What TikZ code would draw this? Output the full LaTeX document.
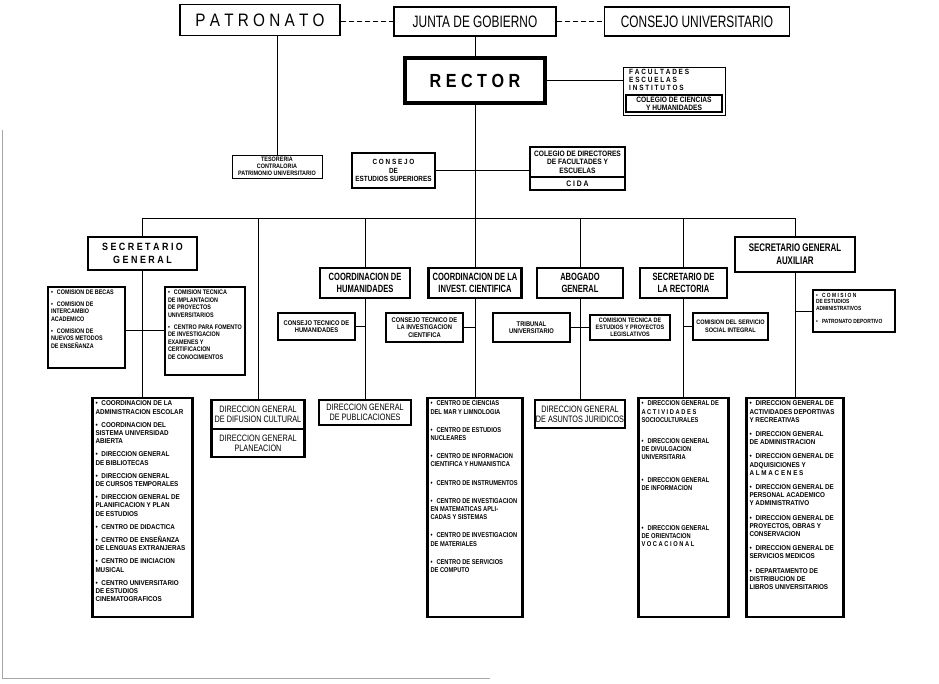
\documentclass[tikz,border=0pt]{standalone}
\usepackage{fontspec}
\setmainfont{Liberation Sans}
\newfontfamily\cnd{Liberation Sans}[FakeStretch=0.72]
\newfontfamily\dgf{Liberation Sans}[FakeStretch=0.78]
\newfontfamily\mdc{Liberation Sans}[FakeStretch=0.85]
\newfontfamily\lfn{Liberation Sans}[FakeStretch=0.9]
\newfontfamily\cfn{Liberation Sans}[FakeStretch=0.82]
\newcommand\mylist[3]{\begin{minipage}[c][#2][t]{#1}\raggedright #3\end{minipage}}
\newcommand\myitem[2][0pt]{\par\vspace*{#1}\noindent\hangindent=6pt\hangafter=1\makebox[6pt][l]{•}#2\par}
\tikzset{
  tp/.style={draw, line width=1.4pt, inner sep=0pt, align=center, font=\cnd\fontsize{16.5}{18}\selectfont},
  hd/.style={draw, line width=2.8pt, inner sep=0pt, align=center, font=\cnd\bfseries\fontsize{10.5}{12}\selectfont},
  sm/.style={draw, line width=2.4pt, inner sep=0pt, align=center, font=\mdc\bfseries\fontsize{6.8}{7.5}\selectfont},
  ls/.style={draw, line width=2.4pt, inner sep=3pt, font=\lfn\bfseries\fontsize{7}{8.2}\selectfont},
  dg/.style={draw, line width=2.2pt, inner sep=0pt, align=center, font=\dgf\fontsize{9.3}{10.2}\selectfont},
  ln/.style={line width=1pt},
  dl/.style={line width=1pt, dash pattern=on 5pt off 3pt}
}
\begin{document}
\begin{tikzpicture}[x=1pt,y=-1pt]
\useasboundingbox (0,0) rectangle (939,683);
\fill[white] (0,0) rectangle (939,683);
% top row
\node[tp, minimum width=160, minimum height=31, font=\mdc\fontsize{18}{19}\selectfont] (pat) at (260,20) {P A T R O N A T O};
\node[tp, minimum width=162, minimum height=29] (junta) at (475,21.5) {JUNTA DE GOBIERNO};
\node[tp, minimum width=185, minimum height=29] (cons) at (697,21.5) {CONSEJO UNIVERSITARIO};
\node[draw, line width=3.5pt, minimum width=140, minimum height=45, inner sep=0pt, font=\mdc\bfseries\fontsize{19}{20}\selectfont] (rector) at (475,80.5) {R E C T O R};
% facultades
\node[draw, line width=0.9pt, minimum width=102, minimum height=48, inner sep=0pt] (fac) at (674,91) {};
\node[anchor=north west, inner sep=0pt, align=left, font=\mdc\bfseries\fontsize{7.6}{8.2}\selectfont] (facT) at (629,69) {F A C U L T A D E S\\E S C U E L A S\\I N S T I T U T O S};
\node[sm, minimum width=96, minimum height=17, font=\mdc\bfseries\fontsize{7.8}{8}\selectfont] (cch) at (674,103.5) {COLEGIO DE CIENCIAS\\Y HUMANIDADES};
% second level
\node[draw, line width=1pt, minimum width=90, minimum height=23, inner sep=0pt, align=center, font=\mdc\bfseries\fontsize{6.4}{7}\selectfont] (tes) at (277,166.5) {TESORERIA\\CONTRALORIA\\PATRIMONIO UNIVERSITARIO};
\node[sm, minimum width=83, minimum height=35, font=\mdc\bfseries\fontsize{7.5}{8.5}\selectfont] (ces) at (393.5,170.5) {C O N S E J O\\DE\\ESTUDIOS SUPERIORES};
\node[sm, minimum width=95, minimum height=30, font=\mdc\bfseries\fontsize{7.8}{8.5}\selectfont] (cdirA) at (577.5,162) {COLEGIO DE DIRECTORES\\DE FACULTADES Y\\ESCUELAS};
\node[sm, minimum width=95, minimum height=13, font=\mdc\bfseries\fontsize{8}{8}\selectfont] (cdirB) at (577.5,183.5) {C I D A};
% bus
\coordinate (bl) at (142.5,218);
\coordinate (br) at (795,218);
% secretario general
\node[hd, minimum width=109, minimum height=33, font=\mdc\bfseries\fontsize{10.5}{13}\selectfont] (sg) at (142.5,253.5) {S E C R E T A R I O\\G E N E R A L};
\node[ls, font=\cfn\bfseries\fontsize{6.6}{7.6}\selectfont] (com1) at (86.5,327.5) {\mylist{71pt}{75pt}{%
\myitem{COMISION DE BECAS}
\myitem[4pt]{COMISION DE\\INTERCAMBIO\\ACADEMICO}
\myitem[4pt]{COMISION DE\\NUEVOS METODOS\\DE ENSEÑANZA}}};
\node[ls, font=\cfn\bfseries\fontsize{6.6}{7.6}\selectfont] (com2) at (205,331) {\mylist{74pt}{82pt}{%
\myitem{COMISION TECNICA\\DE IMPLANTACION\\DE PROYECTOS\\UNIVERSITARIOS}
\myitem[4pt]{CENTRO PARA FOMENTO\\DE INVESTIGACION\\EXAMENES Y\\CERTIFICACION\\DE CONOCIMIENTOS}}};
\node[ls] (low1) at (142.5,507.5) {\mylist{94pt}{213pt}{%
\myitem{COORDINACION DE LA\\ADMINISTRACION ESCOLAR}
\myitem[5pt]{COORDINACION DEL\\SISTEMA UNIVERSIDAD\\ABIERTA}
\myitem[5pt]{DIRECCION GENERAL\\DE BIBLIOTECAS}
\myitem[5pt]{DIRECCION GENERAL\\DE CURSOS TEMPORALES}
\myitem[5pt]{DIRECCION GENERAL DE\\PLANIFICACION Y PLAN\\DE ESTUDIOS}
\myitem[5pt]{CENTRO DE DIDACTICA}
\myitem[5pt]{CENTRO DE ENSEÑANZA\\DE LENGUAS EXTRANJERAS}
\myitem[5pt]{CENTRO DE INICIACION\\MUSICAL}
\myitem[5pt]{CENTRO UNIVERSITARIO\\DE ESTUDIOS\\CINEMATOGRAFICOS}}};
\node[dg, minimum width=93, minimum height=29] (dif) at (258,414.5) {DIRECCION GENERAL\\DE DIFUSION CULTURAL};
\node[dg, minimum width=93, minimum height=28] (plan) at (258,443) {DIRECCION GENERAL\\PLANEACION};
% humanidades
\node[hd, minimum width=90, minimum height=30] (ch) at (365,283) {COORDINACION DE\\HUMANIDADES};
\node[sm, minimum width=77, minimum height=27] (cth) at (316.5,326.5) {CONSEJO TECNICO DE\\HUMANIDADES};
\node[dg, minimum width=92, minimum height=25] (pub) at (365,412.5) {DIRECCION GENERAL\\DE PUBLICACIONES};
% investigacion
\node[hd, minimum width=93, minimum height=30] (cic) at (475,283) {COORDINACION DE LA\\INVEST. CIENTIFICA};
\node[sm, minimum width=77, minimum height=29] (ctic) at (424.5,327.5) {CONSEJO TECNICO DE\\LA INVESTIGACION\\CIENTIFICA};
\node[ls, font=\cfn\bfseries\fontsize{7}{8.2}\selectfont] (low2) at (475,507.5) {\mylist{89pt}{213pt}{%
\myitem{CENTRO DE CIENCIAS\\DEL MAR Y LIMNOLOGIA}
\myitem[10pt]{CENTRO DE ESTUDIOS\\NUCLEARES}
\myitem[10pt]{CENTRO DE INFORMACION\\CIENTIFICA Y HUMANISTICA}
\myitem[10pt]{CENTRO DE INSTRUMENTOS}
\myitem[10pt]{CENTRO DE INVESTIGACION\\EN MATEMATICAS APLI-\\CADAS Y SISTEMAS}
\myitem[10pt]{CENTRO DE INVESTIGACION\\DE MATERIALES}
\myitem[10pt]{CENTRO DE SERVICIOS\\DE COMPUTO}}};
% abogado
\node[hd, minimum width=86, minimum height=30] (ag) at (580,283) {ABOGADO\\GENERAL};
\node[sm, minimum width=77, minimum height=29] (trib) at (531.5,327.5) {TRIBUNAL\\UNIVERSITARIO};
\node[sm, minimum width=80, minimum height=25, font=\mdc\bfseries\fontsize{6.4}{6.9}\selectfont] (ctl) at (630,327.5) {COMISION TECNICA DE\\ESTUDIOS Y PROYECTOS\\LEGISLATIVOS};
\node[dg, minimum width=90, minimum height=28] (aj) at (580,414) {DIRECCION GENERAL\\DE ASUNTOS JURIDICOS};
% secretario de la rectoria
\node[hd, minimum width=87, minimum height=30] (sr) at (683.5,283) {SECRETARIO DE\\LA RECTORIA};
\node[sm, minimum width=75, minimum height=27, font=\mdc\bfseries\fontsize{6.5}{7.5}\selectfont] (css) at (730.5,326.5) {COMISION DEL SERVICIO\\SOCIAL INTEGRAL};
\node[ls, font=\cfn\bfseries\fontsize{7}{8.2}\selectfont] (low3) at (683.5,507.5) {\mylist{84pt}{213pt}{%
\myitem{DIRECCION GENERAL DE\\A C T I V I D A D E S\\SOCIOCULTURALES}
\myitem[13pt]{DIRECCION GENERAL\\DE DIVULGACION\\UNIVERSITARIA}
\myitem[14pt]{DIRECCION GENERAL\\DE INFORMACION}
\myitem[32pt]{DIRECCION GENERAL\\DE ORIENTACION\\V O C A C I O N A L}}};
% secretario general auxiliar
\node[hd, minimum width=120, minimum height=35, font=\cnd\bfseries\fontsize{11}{13}\selectfont] (sga) at (795,254.5) {SECRETARIO GENERAL\\AUXILIAR};
\node[ls, font=\cfn\bfseries\fontsize{6}{6.8}\selectfont] (cea) at (854,311) {\mylist{76pt}{36pt}{%
\myitem{C O M I S I O N\\DE ESTUDIOS\\ADMINISTRATIVOS}
\myitem[6pt]{PATRONATO DEPORTIVO}}};
\node[ls] (low4) at (795,507.5) {\mylist{91pt}{213pt}{%
\myitem{DIRECCION GENERAL DE\\ACTIVIDADES DEPORTIVAS\\Y RECREATIVAS}
\myitem[6pt]{DIRECCION GENERAL\\DE ADMINISTRACION}
\myitem[6pt]{DIRECCION GENERAL DE\\ADQUISICIONES Y\\A L M A C E N E S}
\myitem[6pt]{DIRECCION GENERAL DE\\PERSONAL ACADEMICO\\Y ADMINISTRATIVO}
\myitem[6pt]{DIRECCION GENERAL DE\\PROYECTOS, OBRAS Y\\CONSERVACION}
\myitem[6pt]{DIRECCION GENERAL DE\\SERVICIOS MEDICOS}
\myitem[6pt]{DEPARTAMENTO DE\\DISTRIBUCION DE\\LIBROS UNIVERSITARIOS}}};
% connectors
\draw[dl] (pat.east |- junta.west) -- (junta.west);
\draw[dl] (junta.east) -- (junta.east -| cons.west);
\draw[ln] (junta.south) -- (rector.north);
\draw[ln] (pat.south -| tes.north) -- (tes.north);
\draw[ln] (rector.east) -- (rector.east -| fac.west);
\draw[ln] (rector.south) -- (cic.north);
\draw[ln] (ces.east) -- (ces.east -| cdirA.west);
\draw[ln] (bl) -- (br);
\draw[ln] (sg.north) -- (sg.north |- bl);
\draw[ln] (sg.south) -- (low1.north);
\coordinate (j1) at (142.5,330);
\draw[ln] (j1 -| com1.east) -- (j1 -| com2.west);
\draw[ln] (dif.north) -- (dif.north |- bl);
\draw[ln] (ch.north) -- (ch.north |- bl);
\draw[ln] (ch.south) -- (pub.north);
\draw[ln] (cth.east) -- (cth.east -| ch.south);
\draw[ln] (cic.south) -- (low2.north);
\draw[ln] (ctic.east) -- (ctic.east -| cic.south);
\draw[ln] (ag.north) -- (ag.north |- bl);
\draw[ln] (ag.south) -- (aj.north);
\draw[ln] (trib.east) -- (trib.east -| ctl.west);
\draw[ln] (sr.north) -- (sr.north |- bl);
\draw[ln] (sr.south) -- (low3.north);
\draw[ln] (css.west) -- (css.west -| sr.south);
\draw[ln] (sga.north) -- (sga.north |- bl);
\draw[ln] (sga.south) -- (low4.north);
\draw[ln] (cea.west) -- (cea.west -| sga.south);
% page edge marks
\draw[gray!70, line width=0.6pt] (2,130) -- (2,678) -- (490,678);
\end{tikzpicture}
\end{document}
